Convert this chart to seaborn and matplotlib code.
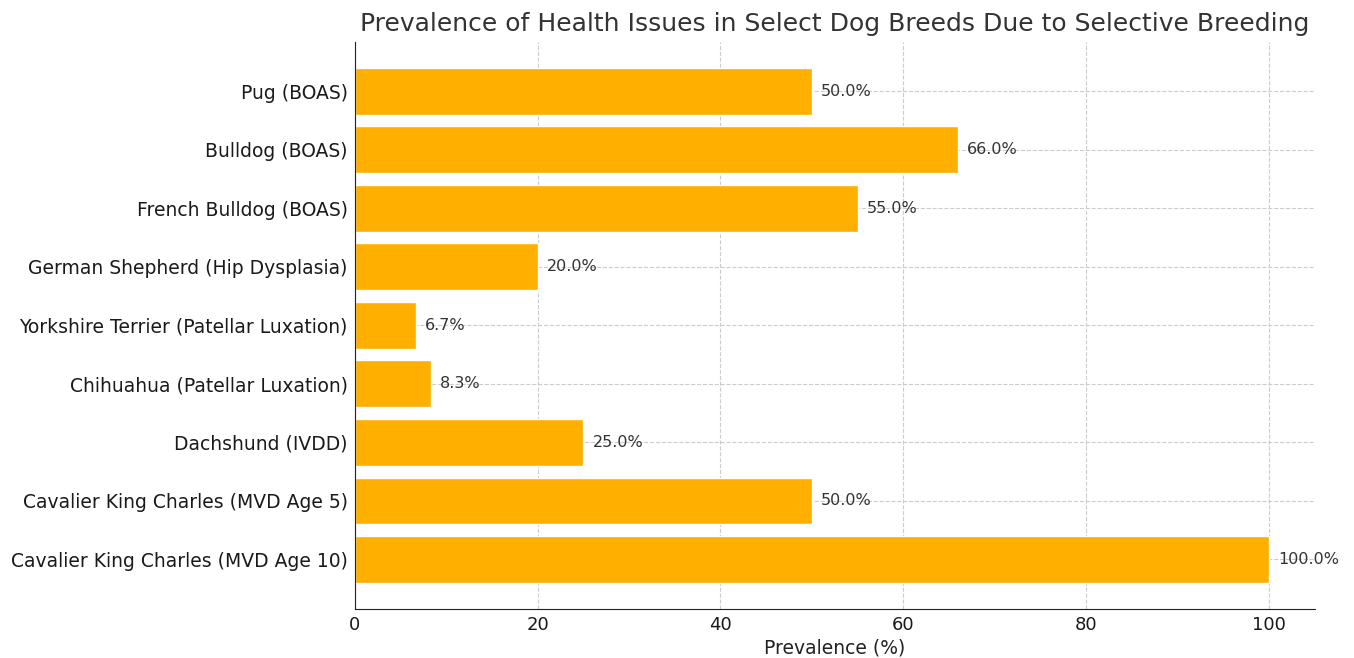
import matplotlib
matplotlib.use("Agg")
import matplotlib.pyplot as plt
import seaborn as sns
import pandas as pd

breeds = [
    "Pug (BOAS)",
    "Bulldog (BOAS)",
    "French Bulldog (BOAS)",
    "German Shepherd (Hip Dysplasia)",
    "Yorkshire Terrier (Patellar Luxation)",
    "Chihuahua (Patellar Luxation)",
    "Dachshund (IVDD)",
    "Cavalier King Charles (MVD Age 5)",
    "Cavalier King Charles (MVD Age 10)",
]
prevalence = [50.0, 66.0, 55.0, 20.0, 6.7, 8.3, 25.0, 50.0, 100.0]

df = pd.DataFrame({"breed": breeds, "prevalence": prevalence})

sns.set_style("white")
plt.rcParams["font.family"] = ["DejaVu Sans"]

fig, ax = plt.subplots(figsize=(13.54, 6.58), dpi=100)
fig.subplots_adjust(left=0.262, right=0.971, top=0.936, bottom=0.075)

sns.barplot(data=df, x="prevalence", y="breed", order=breeds, color="#FFAF00",
            saturation=1, width=0.8, ax=ax, zorder=2)

for i, v in enumerate(prevalence):
    ax.text(v + 1, i, f"{v:.1f}%", va="center", ha="left", fontsize=11.5, color="#333333")

ax.set_xlim(0, 105)
ax.set_ylim(len(breeds) - 1 + 0.84, -0.84)
ax.set_title("Prevalence of Health Issues in Select Dog Breeds Due to Selective Breeding",
             fontsize=18, color="#333333", pad=8)
ax.set_xlabel("Prevalence (%)", fontsize=13.5, color="#222222", labelpad=3)
ax.set_ylabel("")
ax.tick_params(axis="y", labelsize=13.5, colors="#1a1a1a", length=3, pad=2)
ax.tick_params(axis="x", labelsize=13, colors="#1a1a1a", length=3.5, pad=2)
ax.grid(True, linestyle="--", color="#cccccc", linewidth=0.8, zorder=0)
ax.set_axisbelow(True)
for s in ["top", "right"]:
    ax.spines[s].set_visible(False)
for s in ["left", "bottom"]:
    ax.spines[s].set_color("#222222")

fig.savefig("out.png", dpi=100)
